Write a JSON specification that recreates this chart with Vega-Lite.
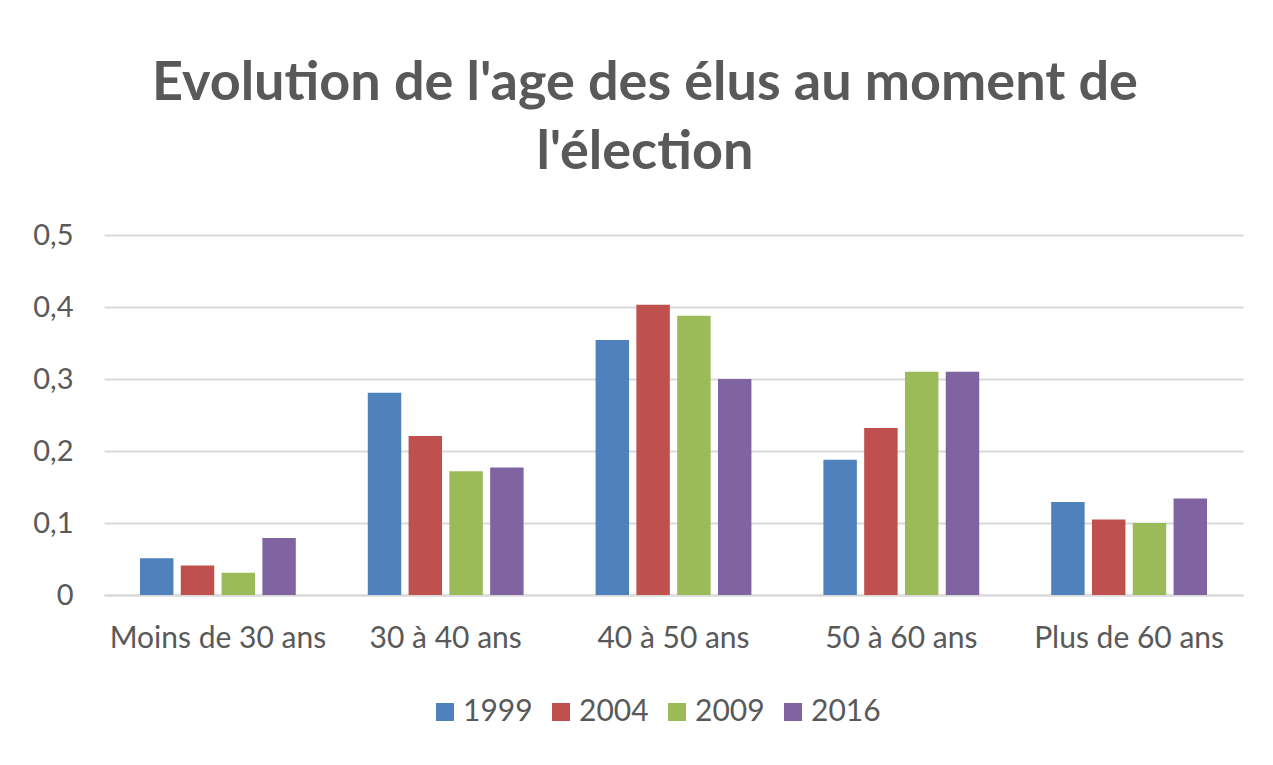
{
  "$schema": "https://vega.github.io/schema/vega-lite/v6.json",
  "width": 1139,
  "height": 360,
  "padding": {"left": 32, "top": 57, "right": 10, "bottom": 10},
  "background": "white",
  "title": {
    "text": ["Evolution de l'age des élus au moment de", "l'élection"],
    "font": "Lato",
    "fontWeight": "bold",
    "fontSize": 54,
    "color": "#595959",
    "lineHeight": 69,
    "anchor": "middle",
    "frame": "bounds",
    "dx": 7,
    "offset": 41
  },
  "data": {
    "values": [
      {"age": "Moins de 30 ans", "annee": "1999", "valeur": 0.051},
      {"age": "Moins de 30 ans", "annee": "2004", "valeur": 0.041},
      {"age": "Moins de 30 ans", "annee": "2009", "valeur": 0.031},
      {"age": "Moins de 30 ans", "annee": "2016", "valeur": 0.079},
      {"age": "30 à 40 ans", "annee": "1999", "valeur": 0.281},
      {"age": "30 à 40 ans", "annee": "2004", "valeur": 0.221},
      {"age": "30 à 40 ans", "annee": "2009", "valeur": 0.172},
      {"age": "30 à 40 ans", "annee": "2016", "valeur": 0.177},
      {"age": "40 à 50 ans", "annee": "1999", "valeur": 0.354},
      {"age": "40 à 50 ans", "annee": "2004", "valeur": 0.403},
      {"age": "40 à 50 ans", "annee": "2009", "valeur": 0.388},
      {"age": "40 à 50 ans", "annee": "2016", "valeur": 0.300},
      {"age": "50 à 60 ans", "annee": "1999", "valeur": 0.188},
      {"age": "50 à 60 ans", "annee": "2004", "valeur": 0.232},
      {"age": "50 à 60 ans", "annee": "2009", "valeur": 0.310},
      {"age": "50 à 60 ans", "annee": "2016", "valeur": 0.310},
      {"age": "Plus de 60 ans", "annee": "1999", "valeur": 0.129},
      {"age": "Plus de 60 ans", "annee": "2004", "valeur": 0.105},
      {"age": "Plus de 60 ans", "annee": "2009", "valeur": 0.100},
      {"age": "Plus de 60 ans", "annee": "2016", "valeur": 0.134}
    ]
  },
  "mark": {"type": "bar"},
  "encoding": {
    "x": {
      "field": "age",
      "type": "nominal",
      "sort": null,
      "title": null,
      "scale": {"paddingInner": 0.316, "paddingOuter": 0.158},
      "axis": {
        "labelAngle": 0,
        "labelFont": "Lato",
        "labelFontSize": 30,
        "labelColor": "#595959",
        "labelPadding": 28,
        "labelLimit": 0,
        "ticks": false,
        "domainColor": "#d9d9d9",
        "domainWidth": 2,
        "grid": false
      }
    },
    "xOffset": {
      "field": "annee",
      "type": "nominal",
      "scale": {"paddingInner": 0.18, "paddingOuter": 0}
    },
    "y": {
      "field": "valeur",
      "type": "quantitative",
      "title": null,
      "scale": {"domain": [0, 0.5]},
      "axis": {
        "values": [0, 0.1, 0.2, 0.3, 0.4, 0.5],
        "labelExpr": "replace(format(datum.value, '.1~f'), '.', ',')",
        "labelFont": "Lato",
        "labelFontSize": 29,
        "labelColor": "#595959",
        "labelPadding": 31,
        "ticks": false,
        "domain": false,
        "gridColor": "#d9d9d9",
        "gridWidth": 2
      }
    },
    "color": {
      "field": "annee",
      "type": "nominal",
      "title": null,
      "scale": {
        "domain": ["1999", "2004", "2009", "2016"],
        "range": ["#4f81bd", "#c0504d", "#9bbb59", "#8064a2"]
      },
      "legend": {
        "orient": "none",
        "legendX": 326,
        "legendY": 462,
        "direction": "horizontal",
        "symbolType": "square",
        "symbolSize": 324,
        "symbolStrokeWidth": 0,
        "labelFont": "Lato",
        "labelFontSize": 30,
        "labelColor": "#595959",
        "labelOffset": 3,
        "columnPadding": 13
      }
    }
  },
  "config": {
    "view": {"stroke": null}
  }
}
